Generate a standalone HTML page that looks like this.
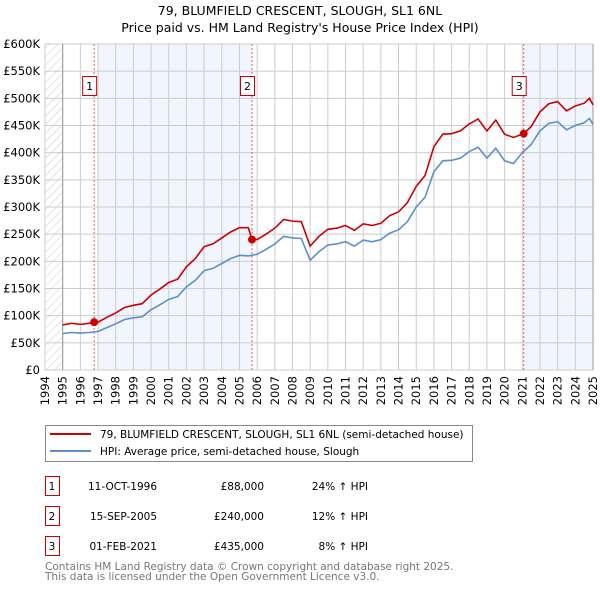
<!DOCTYPE html>
<html><head><meta charset="utf-8"><style>
body{margin:0;background:#fff;}
svg text{font-family:"DejaVu Sans","Liberation Sans",sans-serif;}
</style></head><body>
<svg id="chart" width="600" height="590" viewBox="0 0 600 590" xmlns="http://www.w3.org/2000/svg">
<defs><pattern id="hatch" width="6" height="6" patternUnits="userSpaceOnUse" patternTransform="rotate(45)"><line x1="0" y1="0" x2="0" y2="6" stroke="#ccc" stroke-width="1"/></pattern></defs>
<text x="300" y="15" text-anchor="middle" font-size="12.5">79, BLUMFIELD CRESCENT, SLOUGH, SL1 6NL</text>
<text x="300" y="32" text-anchor="middle" font-size="12.5">Price paid vs. HM Land Registry's House Price Index (HPI)</text>
<g id="plot"></g>
<g>
<rect x="45.5" y="425.5" width="427" height="36" fill="#fff" stroke="#888"/>
<line x1="50" y1="434" x2="91" y2="434" stroke="#cc0000" stroke-width="2"/>
<text x="100" y="438" font-size="10.5">79, BLUMFIELD CRESCENT, SLOUGH, SL1 6NL (semi-detached house)</text>
<line x1="50" y1="451" x2="91" y2="451" stroke="#5b8fd0" stroke-width="2"/>
<text x="100" y="455" font-size="10.5">HPI: Average price, semi-detached house, Slough</text>
</g>
<g id="table" font-size="10.5"></g>
<text x="45" y="570" font-size="10.5" fill="#777">Contains HM Land Registry data © Crown copyright and database right 2025.</text>
<text x="45" y="580" font-size="10.5" fill="#777">This data is licensed under the Open Government Licence v3.0.</text>
</svg>
<script>
const hpiYears=[1995,1995.5,1996,1996.5,1997,1997.5,1998,1998.5,1999,1999.5,2000,2000.5,2001,2001.5,2002,2002.5,2003,2003.5,2004,2004.5,2005,2005.5,2006,2006.5,2007,2007.5,2008,2008.5,2009,2009.5,2010,2010.5,2011,2011.5,2012,2012.5,2013,2013.5,2014,2014.5,2015,2015.5,2016,2016.5,2017,2017.5,2018,2018.5,2019,2019.5,2020,2020.5,2021,2021.5,2022,2022.5,2023,2023.5,2024,2024.5,2024.8,2025];
const hpiValues=[67,69,68,69,71,78,85,93,96,98,111,120,130,135,153,165,183,187,196,205,211,210,213,222,232,246,243,242,202,218,230,232,236,228,239,236,240,252,258,273,300,318,365,385,386,390,402,410,390,408,385,380,400,415,440,454,457,442,450,455,463,452];
const priceYears=[1995,1995.5,1996,1996.5,1996.78,1997,1997.5,1998,1998.5,1999,1999.5,2000,2000.5,2001,2001.5,2002,2002.5,2003,2003.5,2004,2004.5,2005,2005.5,2005.71,2006,2006.5,2007,2007.5,2008,2008.5,2009,2009.5,2010,2010.5,2011,2011.5,2012,2012.5,2013,2013.5,2014,2014.5,2015,2015.5,2016,2016.5,2017,2017.5,2018,2018.5,2019,2019.5,2020,2020.5,2021.08,2021.5,2022,2022.5,2023,2023.5,2024,2024.5,2024.8,2025];
const priceValues=[83,86,84,86,88,88,97,105,115,119,122,138,149,161,167,190,205,227,232,243,254,262,262,240,240,250,261,277,274,273,228,246,259,261,266,257,269,266,270,284,291,308,338,358,411,434,435,440,453,462,440,460,434,428,435,448,475,490,494,477,486,491,500,488];
const saleYears=[1996.78,2005.71,2021.08];
const saleValues=[88,240,435];
const saleLabels=["1","2","3"];
const saleDates=["11-OCT-1996","15-SEP-2005","01-FEB-2021"];
const salePrices=["£88,000","£240,000","£435,000"];
const saleDiffs=["24% ↑ HPI","12% ↑ HPI","8% ↑ HPI"];
const yTicks=[0,50,100,150,200,250,300,350,400,450,500,550,600];
const yTickLabels=["£0","£50K","£100K","£150K","£200K","£250K","£300K","£350K","£400K","£450K","£500K","£550K","£600K"];
const xTicks=[1994,1995,1996,1997,1998,1999,2000,2001,2002,2003,2004,2005,2006,2007,2008,2009,2010,2011,2012,2013,2014,2015,2016,2017,2018,2019,2020,2021,2022,2023,2024,2025];

const NS="http://www.w3.org/2000/svg";
const X0=45,X1=593,Y0=370,Y1=44;
const xs=y=>X0+(y-1994)/(2025-1994)*(X1-X0);
const ys=v=>Y0-v/600*(Y0-Y1);
const plot=document.getElementById('plot');
function mk(tag,attrs,parent){const e=document.createElementNS(NS,tag);for(const k in attrs)e.setAttribute(k,attrs[k]);(parent||plot).appendChild(e);return e;}

let e;
e=mk('rect',{x:X0,y:Y1,width:X1-X0,height:Y0-Y1,fill:'#fff'});


e=mk('rect',{x:xs(1997),y:Y1,width:xs(saleYears[1])-xs(1997),height:Y0-Y1,fill:'#eef3fc',opacity:0.8});


e=mk('rect',{x:xs(saleYears[2]),y:Y1,width:X1-xs(saleYears[2]),height:Y0-Y1,fill:'#eef3fc',opacity:0.8});


e=mk('rect',{x:X0,y:Y1,width:xs(1995)-X0,height:Y0-Y1,fill:'url(#hatch)'});


yTicks.forEach((t,i)=>{
  const g=mk('line',{x1:X0,x2:X1,y1:ys(t),y2:ys(t),stroke:'#ccc','stroke-width':1});
  
  
  const l=mk('text',{x:40,y:ys(t)+4,'text-anchor':'end','font-size':11.5});
  l.textContent=yTickLabels[i];
  
  
});
xTicks.forEach(t=>{
  const g=mk('line',{x1:xs(t),x2:xs(t),y1:Y1,y2:Y0,stroke:'#ccc','stroke-width':1});
  
  
  const l=mk('text',{x:xs(t)+4,y:376,'text-anchor':'end','font-size':11.5,transform:`rotate(-90 ${xs(t)+4} 376)`});
  l.textContent=t;
  
  
});
e=mk('line',{x1:xs(1995),x2:xs(1995),y1:Y1,y2:Y0,stroke:'#999'});


e=mk('line',{x1:X1,x2:X1,y1:Y1,y2:Y0,stroke:'#999'});


saleYears.forEach((y,i)=>{
  const v=mk('line',{x1:xs(y),x2:xs(y),y1:Y1,y2:Y0,stroke:'#e06060','stroke-dasharray':'2,2','stroke-width':1});
  
  
});
const hp=mk('polyline',{points:hpiYears.map((y,i)=>xs(y)+','+ys(hpiValues[i])).join(' '),fill:'none',stroke:'#5b8fd0','stroke-width':1.6});


const pp=mk('polyline',{points:priceYears.map((y,i)=>xs(y)+','+ys(priceValues[i])).join(' '),fill:'none',stroke:'#cc0000','stroke-width':1.6});


saleYears.forEach((y,i)=>{
  const c=mk('circle',{cx:xs(y),cy:ys(saleValues[i]),r:4,fill:'#cc0000'});
  
  
  const r=mk('rect',{x:xs(y)-11.5,y:76.5,width:14,height:19,fill:'#fff',stroke:'#cc0000'});
  
  
  const t=mk('text',{x:xs(y)-4.5,y:90,'text-anchor':'middle','font-size':11});
  t.textContent=saleLabels[i];
  
  
});
const tb=document.getElementById('table');
saleLabels.forEach((s,i)=>{
  const yy=476+i*30;
  const r=mk('rect',{x:45.5,y:yy+0.5,width:14,height:19,fill:'#fff',stroke:'#cc0000'},tb);
  
  
  const cells=[[52,'middle',s,'table-index'],[157,'end',saleDates[i],'table-date'],[264,'end',salePrices[i],'table-price'],[368,'end',saleDiffs[i],'table-hpi-diff']];
  cells.forEach(c=>{
    const t=mk('text',{x:c[0],y:yy+14,'text-anchor':c[1]},tb);
    t.textContent=c[2];
    
    
  });
});
</script>
</body></html>
